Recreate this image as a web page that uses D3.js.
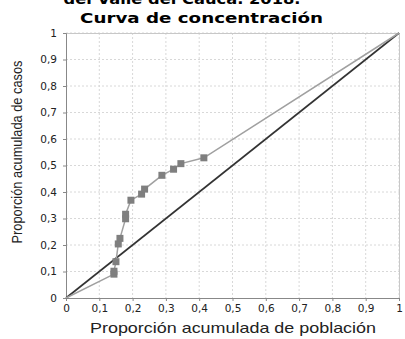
<!DOCTYPE html>
<html><head><meta charset="utf-8">
<script src="https://cdn.jsdelivr.net/npm/d3@7"></script>
<style>body{margin:0;background:#fff;}svg{display:block;}</style>
</head><body>
<svg id="c" width="405" height="339"></svg>
<script>
const xVals = [0, 0.144, 0.144, 0.150, 0.157, 0.162, 0.179, 0.179, 0.195, 0.227, 0.236, 0.288, 0.323, 0.345, 0.414, 1];
const yVals = [0, 0.090, 0.101, 0.137, 0.204, 0.225, 0.299, 0.316, 0.369, 0.392, 0.411, 0.463, 0.486, 0.507, 0.529, 1];
const tickVals = [0, 0.1, 0.2, 0.3, 0.4, 0.5, 0.6, 0.7, 0.8, 0.9, 1];
const tickLabels = ["0", "0,1", "0,2", "0,3", "0,4", "0,5", "0,6", "0,7", "0,8", "0,9", "1"];
const titleTop = "del Valle del Cauca. 2018.";
const title = "Curva de concentración";
const xTitle = "Proporción acumulada de población";
const yTitle = "Proporción acumulada de casos";

const svg = d3.select("#c");
const L = 66, R = 399, T = 33, B = 298;
const x = d3.scaleLinear().domain([0, 1]).range([L, R]);
const y = d3.scaleLinear().domain([0, 1]).range([B, T]);

// grid
const g = svg.append("g");
g.selectAll("line.gx").data(tickVals.slice(1)).enter().append("line")
  .attr("x1", d => x(d)).attr("x2", d => x(d)).attr("y1", T).attr("y2", B)
  .attr("stroke", "#d8d8d8").attr("stroke-dasharray", "2,2");
g.selectAll("line.gy").data(tickVals.slice(1)).enter().append("line")
  .attr("y1", d => y(d)).attr("y2", d => y(d)).attr("x1", L).attr("x2", R)
  .attr("stroke", "#d8d8d8").attr("stroke-dasharray", "2,2");
// border top/right
svg.append("line").attr("x1", L).attr("x2", R).attr("y1", T + 0.5).attr("y2", T + 0.5).attr("stroke", "#c8c8c8");
svg.append("line").attr("x1", R + 0.5).attr("x2", R + 0.5).attr("y1", T).attr("y2", B).attr("stroke", "#c8c8c8");

// axes
const xAxis = d3.axisBottom(x).tickValues(tickVals).tickFormat((d, i) => tickLabels[i]).tickSize(3).tickPadding(4);
const yAxis = d3.axisLeft(y).tickValues(tickVals).tickFormat((d, i) => tickLabels[i]).tickSize(3).tickPadding(6);
const gx = svg.append("g").attr("transform", `translate(0,${B})`).call(xAxis);
const gy = svg.append("g").attr("transform", `translate(${L},0)`).call(yAxis);
[gx, gy].forEach(a => {
  a.selectAll("path").attr("stroke", "#888");
  a.selectAll("line").attr("stroke", "#888");
  a.selectAll("text").attr("font-family", "DejaVu Sans").attr("font-size", 10.5).attr("fill", "#222");
});

// diagonal
svg.append("line").attr("x1", x(0)).attr("y1", y(0)).attr("x2", x(1)).attr("y2", y(1))
  .attr("stroke", "#333").attr("stroke-width", 1.6);

// curve
const pts = xVals.map((v, i) => [v, yVals[i]]);
svg.append("path").datum(pts)
  .attr("d", d3.line().x(d => x(d[0])).y(d => y(d[1])))
  .attr("fill", "none").attr("stroke", "#a0a0a0").attr("stroke-width", 1.5);
const s = 7;
svg.selectAll("rect.m").data(pts.slice(1, -1)).enter().append("rect")
  .attr("x", d => x(d[0]) - s / 2).attr("y", d => y(d[1]) - s / 2)
  .attr("width", s).attr("height", s).attr("fill", "#7f7f7f");

// titles
svg.append("text").attr("x", 182).attr("y", 4).attr("text-anchor", "middle")
  .attr("font-family", "DejaVu Sans").attr("font-weight", "bold").attr("font-size", 14)
  .attr("textLength", 237).attr("lengthAdjust", "spacingAndGlyphs").text(titleTop);
svg.append("text").attr("x", 201.5).attr("y", 23).attr("text-anchor", "middle")
  .attr("font-family", "DejaVu Sans").attr("font-weight", "bold").attr("font-size", 14)
  .attr("textLength", 243).attr("lengthAdjust", "spacingAndGlyphs").text(title);
svg.append("text").attr("x", 233).attr("y", 333).attr("text-anchor", "middle")
  .attr("font-family", "Liberation Sans").attr("font-size", 15).attr("fill", "#222")
  .attr("textLength", 286).attr("lengthAdjust", "spacingAndGlyphs").text(xTitle);
svg.append("text").attr("transform", "translate(22,152) rotate(-90)").attr("text-anchor", "middle")
  .attr("font-family", "Liberation Sans").attr("font-size", 14).attr("fill", "#222")
  .attr("textLength", 183).attr("lengthAdjust", "spacingAndGlyphs").text(yTitle);
</script>
</body></html>
